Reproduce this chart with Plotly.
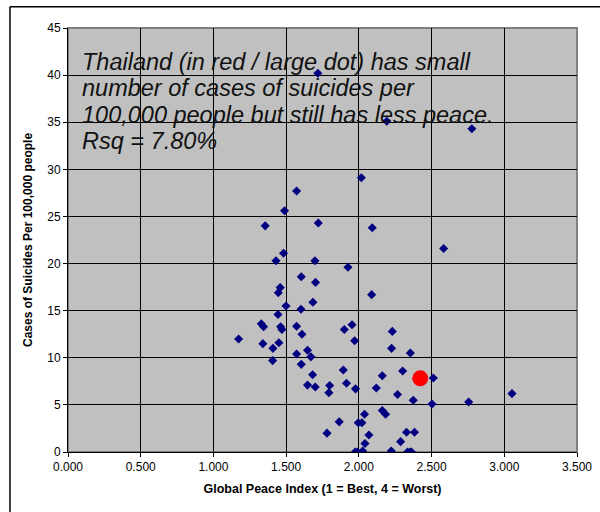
import plotly.graph_objects as go

# Global Peace Index vs suicides per 100,000 people
peace_index = [2.017, 1.572, 1.489, 1.356, 1.721, 2.092, 1.482, 1.430, 1.698, 1.925,
               1.604, 1.702, 1.459, 1.446, 2.088, 1.499, 1.602, 1.684, 1.444, 1.329,
               1.345, 1.462, 1.471, 1.572, 1.609, 1.173, 1.340, 1.450, 1.409, 1.407,
               1.572, 1.647, 1.670, 1.604, 1.682, 1.647, 1.700, 1.799, 1.794, 1.900,
               1.953, 1.971, 1.893, 1.915, 1.977, 2.230, 2.225, 2.161, 2.120, 2.266,
               2.161, 2.184, 2.039, 1.865, 1.996, 2.021, 1.781, 2.069, 2.042, 1.975,
               1.991, 2.026, 2.223, 2.354, 2.301, 2.512, 2.374, 2.503, 2.755, 3.053,
               2.328, 2.383, 2.287, 2.335, 2.352, 2.362, 2.583, 1.718, 2.192, 2.777]
suicides = [29.1, 27.7, 25.6, 24.0, 24.3, 23.8, 21.1, 20.3, 20.3, 19.6,
            18.6, 18.0, 17.45, 16.9, 16.7, 15.5, 15.15, 15.9, 14.6, 13.6,
            13.3, 13.3, 13.0, 13.35, 12.5, 12.0, 11.5, 11.6, 11.0, 9.7,
            10.4, 10.8, 10.1, 9.3, 8.2, 7.1, 6.9, 7.05, 6.3, 13.0,
            13.5, 11.8, 8.7, 7.3, 6.7, 12.8, 11.0, 8.1, 6.8, 6.1,
            4.4, 4.0, 4.0, 3.2, 3.1, 3.1, 2.0, 1.8, 0.9, 0.0,
            0.0, 0.1, 0.1, 10.5, 8.6, 7.86, 5.5, 5.1, 5.3, 6.2,
            2.1, 2.1, 1.1, 0.0, 0.0, 0.0, 21.6, 40.2, 35.1, 34.3]

thailand_x = [2.422]
thailand_y = [7.82]

note_lines = ["Thailand (in red / large dot) has small",
              "number of cases of suicides per",
              "100,000 people but still has less peace.",
              "Rsq = 7.80%"]

fig = go.Figure()
fig.add_trace(go.Scatter(x=peace_index, y=suicides, mode='markers',
                         marker=dict(symbol='diamond', size=7, color='#000080')))
fig.add_trace(go.Scatter(x=thailand_x, y=thailand_y, mode='markers',
                         marker=dict(symbol='circle', size=16, color='#FF0000')))

font = 'Liberation Sans, Arial, sans-serif'
fig.update_layout(
    width=600, height=512,
    margin=dict(l=68, r=23, t=28, b=60),
    paper_bgcolor='white', plot_bgcolor='#C0C0C0',
    showlegend=False,
    font=dict(family=font, size=12, color='black'),
    xaxis=dict(range=[0, 3.5], dtick=0.5, tickformat='.3f', showgrid=True,
               gridcolor='black', gridwidth=1, zeroline=False, automargin=False,
               showline=True, linecolor='black', linewidth=1,
               ticks='outside', ticklen=4, tickcolor='black',
               title=dict(text='<b>Global Peace Index (1 = Best, 4 = Worst)</b>',
                          font=dict(size=12.5), standoff=10)),
    yaxis=dict(range=[0, 45], dtick=5, showgrid=True,
               gridcolor='black', gridwidth=1, zeroline=False, automargin=False,
               showline=True, linecolor='black', linewidth=1,
               ticks='outside', ticklen=4, tickcolor='black',
               title=dict(text='<b>Cases of Suicides Per 100,000 people</b>',
                          font=dict(size=12), standoff=12)),
)

# grey plot-area frame and the outer chart border
fig.add_shape(type='rect', xref='paper', yref='paper', x0=0, y0=0, x1=1, y1=1,
              line=dict(color='#808080', width=2), layer='below')
fig.add_shape(type='line', xref='paper', yref='paper', x0=-0.114, y0=-0.2, x1=-0.114, y1=1.05,
              line=dict(color='black', width=1.5))
fig.add_shape(type='line', xref='paper', yref='paper', x0=-0.114, y0=1.05, x1=1.1, y1=1.05,
              line=dict(color='black', width=1.5))

# one annotation per line to keep the tight line spacing of the original
for i, line in enumerate(note_lines):
    fig.add_annotation(text='<i>' + line + '</i>', xref='x', yref='y',
                       x=0.08, y=39.8 - i * 2.8,
                       xanchor='left', yanchor='bottom', align='left', showarrow=False,
                       font=dict(family=font, size=23.5, color='#111111', style='italic'))

fig.write_html("out.html", config={'displayModeBar': False},
               post_script="document.body.style.margin='0';")
